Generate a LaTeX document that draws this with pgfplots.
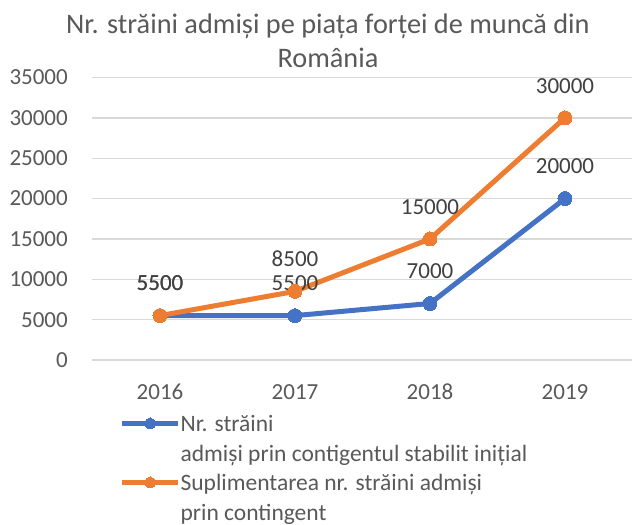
\documentclass[border=0pt]{standalone}
\usepackage{fontspec}
\setmainfont{Carlito}
\usepackage{pgfplots}
\pgfplotsset{compat=1.18}
\definecolor{cblue}{HTML}{4472C4}
\definecolor{corange}{HTML}{ED7D31}
\definecolor{tgray}{HTML}{595959}
\definecolor{dgray}{HTML}{404040}
\definecolor{gridc}{HTML}{D9D9D9}
\pgfplotsset{/pgf/number format/1000 sep={}, /pgf/number format/assume math mode=true}
\begin{document}
\begin{tikzpicture}[x=1pt,y=1pt]
\useasboundingbox (0,0) rectangle (633,525);
\begin{axis}[
  at={(92.5pt,165pt)}, anchor=south west,
  scale only axis, width=540pt, height=282.5pt,
  xmin=-0.5, xmax=3.5, ymin=0, ymax=35000,
  xtick={0,1,2,3}, xticklabels={2016,2017,2018,2019},
  ytick={0,5000,...,35000},
  scaled y ticks=false,
  ymajorgrids, major grid style={gridc, line width=1.3pt},
  axis line style={draw=none},
  major tick length=0pt,
  tick label style={font=\fontsize{23}{28}\selectfont, text=tgray, inner sep=0pt},
  yticklabel style={anchor=east, xshift=-24.5pt},
  xticklabel style={anchor=base, yshift=-40pt},
  every axis title shift=0pt,
  title={\begin{tabular}[t]{@{}c@{}}Nr. străini admiși pe piața forței de muncă din\\România\end{tabular}},
  title style={font=\fontsize{28.3}{34}\selectfont, text=tgray, at={(0.436,1)}, anchor=base, yshift=43.7pt, inner sep=0pt},
  nodes near coords,
  every node near coord/.append style={anchor=base, yshift=24.7pt, font=\fontsize{23}{28}\selectfont, text=dgray, inner sep=0pt},
  legend style={at={(0.0498,-0.1805)}, anchor=north west, draw=none, fill=none,
     font=\fontsize{23.5}{29.5}\selectfont, text=tgray,
     cells={anchor=base west}, row sep=0pt, column sep=0pt, inner sep=0pt,
     nodes={inner sep=0pt, text depth=}},
  legend image code/.code={\draw[mark repeat=2,mark phase=2,#1,mark size=5.5pt] plot coordinates {(0pt,8.4pt) (28pt,8.4pt) (56pt,8.4pt)};},
  clip=false,
]
\addplot[cblue, line width=5pt, mark=*, mark size=7pt, mark options={line width=0pt}] coordinates {(0,5500) (1,5500) (2,7000) (3,20000)};
\addlegendentry{\begin{tabular}[t]{@{}l@{}}Nr. străini\\admiși prin contigentul stabilit inițial\end{tabular}}
\addplot[corange, line width=5pt, mark=*, mark size=7pt, mark options={line width=0pt}] coordinates {(0,5500) (1,8500) (2,15000) (3,30000)};
\addlegendentry{\begin{tabular}[t]{@{}l@{}}Suplimentarea nr. străini admiși\\prin contingent\end{tabular}}
\end{axis}
\end{tikzpicture}
\end{document}
